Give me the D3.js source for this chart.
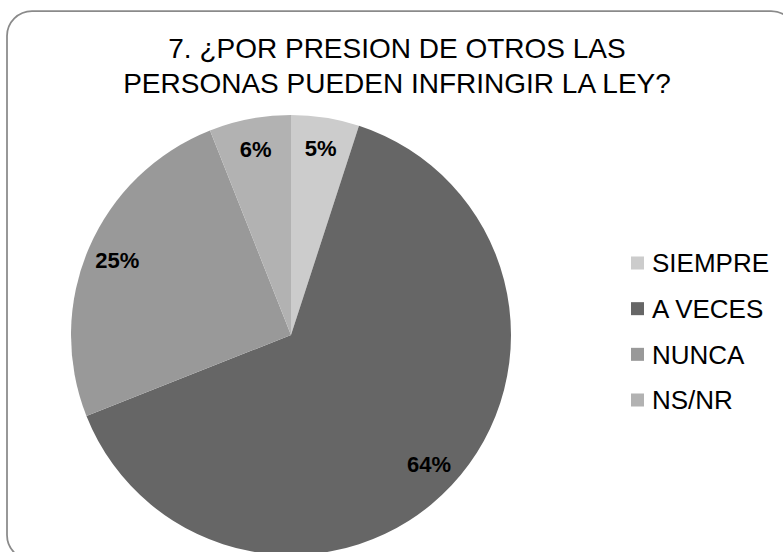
<!DOCTYPE html>
<html>
<head>
<meta charset="utf-8">
<script src="https://cdn.jsdelivr.net/npm/d3@7"></script>
<style>
  html, body { margin: 0; padding: 0; background: #fff; }
  svg { display: block; }
</style>
</head>
<body>
<div id="chart"></div>
<script>
var categories = ["SIEMPRE", "A VECES", "NUNCA", "NS/NR"];
var values = [5, 64, 25, 6];
var colors = ["#cccccc", "#666666", "#999999", "#b2b2b2"];
var titleLines = ["7. \u00bfPOR PRESION DE OTROS LAS", "PERSONAS PUEDEN INFRINGIR LA LEY?"];

var width = 783, height = 552;
var cx = 291, cy = 335, radius = 220;

var svg = d3.select("#chart").append("svg")
  .attr("width", width)
  .attr("height", height);

// chart area frame (runs off the right and bottom edges)
svg.append("rect")
  .attr("x", 7).attr("y", 11)
  .attr("width", 789).attr("height", 549)
  .attr("rx", 25).attr("ry", 25)
  .attr("fill", "#fff")
  .attr("stroke", "#8a8a8a")
  .attr("stroke-width", 1.75);

svg.append("g").attr("class", "title")
  .selectAll("text").data(titleLines).enter().append("text")
  .attr("x", 397)
  .attr("y", function (d, i) { return 58 + i * 35; })
  .attr("text-anchor", "middle")
  .attr("font-family", "Liberation Sans, Arial, sans-serif")
  .attr("font-size", 28)
  .attr("fill", "#000")
  .text(function (d) { return d; });

var pie = d3.pie().sort(null).value(function (d) { return d; });
var arc = d3.arc().innerRadius(0).outerRadius(radius);
var labelArc = d3.arc().innerRadius(radius * 0.86).outerRadius(radius * 0.86);
var arcs = pie(values);

var g = svg.append("g").attr("transform", "translate(" + cx + "," + cy + ")");

g.selectAll("path.slice").data(arcs).enter().append("path")
  .attr("class", "slice")
  .attr("d", arc)
  .attr("fill", function (d, i) { return colors[i]; });

g.selectAll("text.label").data(arcs).enter().append("text")
  .attr("class", "label")
  .attr("transform", function (d) { return "translate(" + labelArc.centroid(d) + ")"; })
  .attr("text-anchor", "middle")
  .attr("dy", "0.35em")
  .attr("font-family", "Liberation Sans, Arial, sans-serif")
  .attr("font-weight", "bold")
  .attr("font-size", 22)
  .attr("fill", "#000")
  .text(function (d) { return d.data + "%"; });

var legendY = d3.scalePoint().domain(categories).range([263, 400]);

var legend = svg.append("g").attr("class", "legend")
  .selectAll("g").data(categories).enter().append("g")
  .attr("transform", function (d) { return "translate(631," + legendY(d) + ")"; });

legend.append("rect")
  .attr("x", 0).attr("y", -6.5)
  .attr("width", 13).attr("height", 13)
  .attr("fill", function (d, i) { return colors[i]; });

legend.append("text")
  .attr("x", 21)
  .attr("dy", "0.36em")
  .attr("font-family", "Liberation Sans, Arial, sans-serif")
  .attr("font-size", 26)
  .attr("fill", "#000")
  .text(function (d) { return d; });
</script>
</body>
</html>
